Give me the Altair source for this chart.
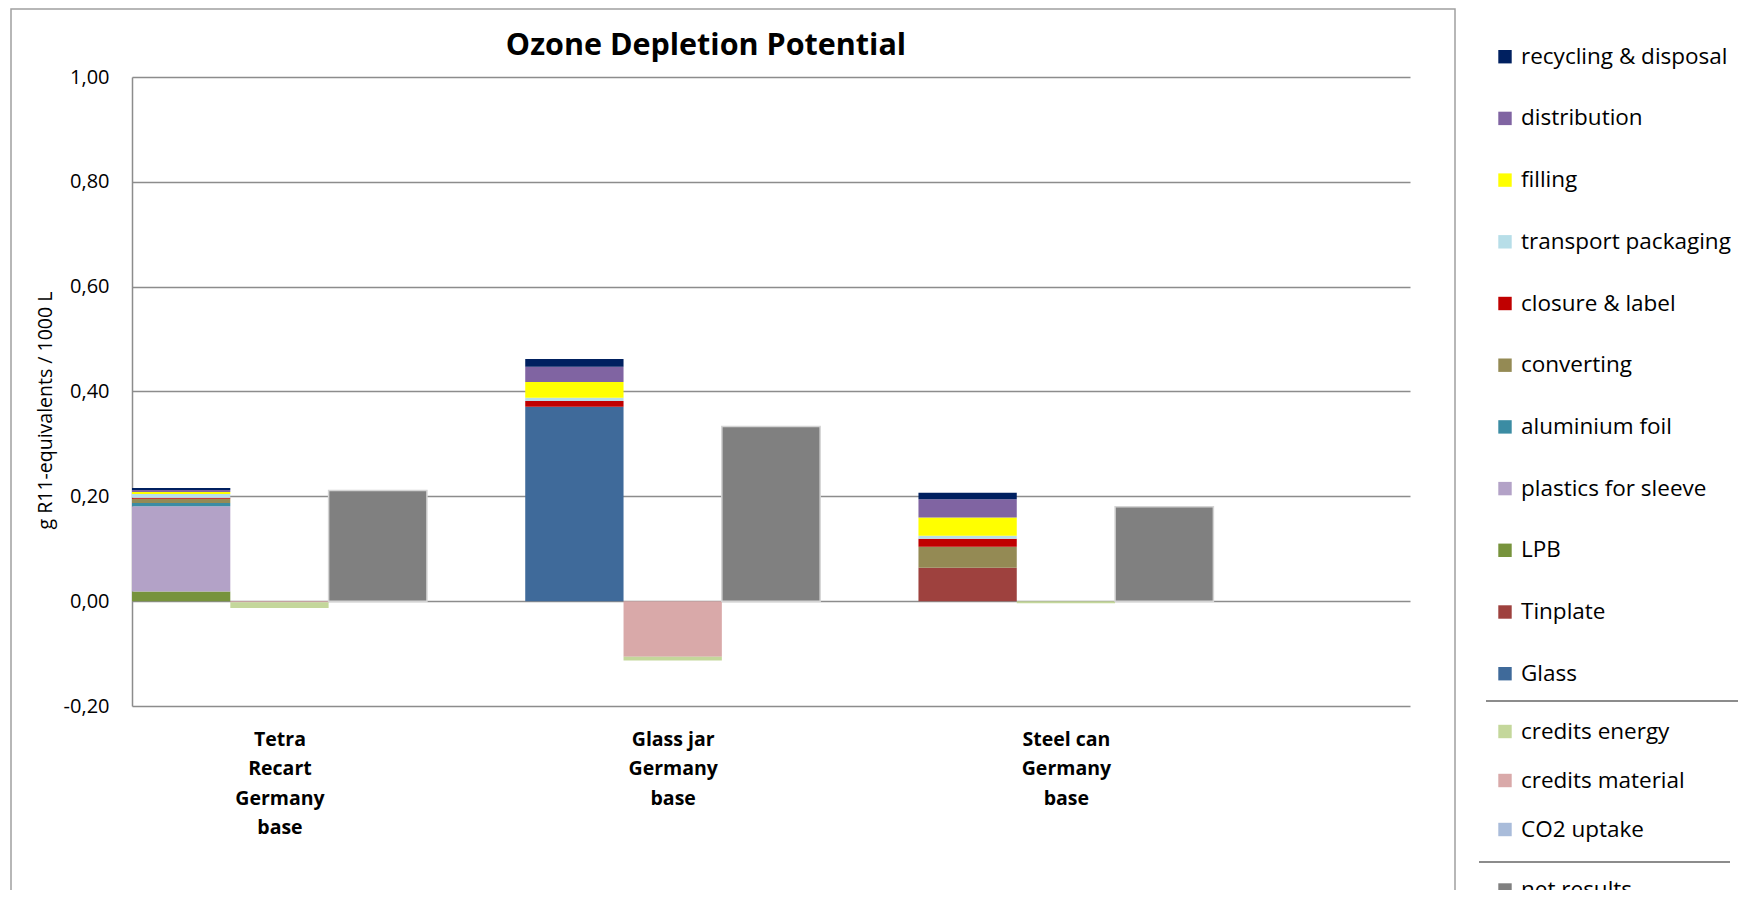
import json
import pandas as pd
import altair as alt

# ---------------- data ----------------
chart_title = "Ozone Depletion Potential"
y_title = "g R11-equivalents / 1000 L"
category_labels = ["Tetra|Recart|Germany|base", "Glass jar|Germany|base", "Steel can|Germany|base"]

# burden series, stacking order bottom -> top
burden_series = ["Glass", "Tinplate", "LPB", "plastics for sleeve", "aluminium foil", "converting",
                 "closure & label", "transport packaging", "filling", "distribution",
                 "recycling & disposal", "CO2 reg (EOL)"]
tetra_burdens = [0, 0, 0.0185, 0.1625, 0.0065, 0.008, 0.002, 0.007, 0.004, 0.0035, 0.004, 0]
glass_burdens = [0.371, 0, 0, 0, 0, 0, 0.0107, 0.0063, 0.030, 0.029, 0.015, 0]
steel_burdens = [0, 0.0636, 0, 0, 0, 0.0404, 0.015, 0.0056, 0.035, 0.035, 0.012, 0]

# credit series, order from zero downwards
credit_series = ["CO2 uptake", "credits material", "credits energy"]
tetra_credits = [0, -0.002, -0.011]
glass_credits = [0, -0.106, -0.007]
steel_credits = [0, 0, -0.004]

net_results = [0.211, 0.333, 0.180]

series_names = ["CO2 reg (EOL)", "recycling & disposal", "distribution", "filling",
                "transport packaging", "closure & label", "converting", "aluminium foil",
                "plastics for sleeve", "LPB", "Tinplate", "Glass",
                "credits energy", "credits material", "CO2 uptake", "net results"]
series_colors = ["#F79646", "#002060", "#8064A2", "#FFFF00",
                 "#B7DEE8", "#C00000", "#948A54", "#3B8CA3",
                 "#B3A2C7", "#77933C", "#9E413E", "#3F6A9A",
                 "#C4D79B", "#D9A9A9", "#A9BCDA", "#808080"]

y_ticks = [-0.2, 0.0, 0.2, 0.4, 0.6, 0.8, 1.0]

# ---------------- table ----------------
rows = []
burdens = [tetra_burdens, glass_burdens, steel_burdens]
credits = [tetra_credits, glass_credits, steel_credits]
for g in range(3):
    base = 4 * g
    for i, s in enumerate(burden_series):
        rows.append({"slot": base, "slot_end": base + 1, "series": s, "value": burdens[g][i], "order": i})
    for i, s in enumerate(credit_series):
        rows.append({"slot": base + 1, "slot_end": base + 2, "series": s, "value": credits[g][i], "order": i})
    rows.append({"slot": base + 2, "slot_end": base + 3, "series": "net results", "value": net_results[g], "order": 0})
df = pd.DataFrame(rows)

# ---------------- layout (pixels) ----------------
W, H = 1278, 629
PAD_L, PAD_T = 124, 69
CANVAS_W, CANVAS_H = 1736, 882
OX, OY = 132, 77          # page position of the plot origin
FONT = "Open Sans"

# legend rows (in plot coordinates)
leg_y = []
for i in range(12):
    leg_y.append(-5.0 + 61.7 * i - OY)
for j in range(3):
    leg_y.append(731.5 + 49 * j - OY)
leg_y.append(890 - OY)
df_leg = pd.DataFrame({"label": series_names, "color": series_colors, "ly": leg_y})

label_js = json.dumps(category_labels)
y_label_expr = "(datum.value < 0 ? '-' : '') + replace(format(abs(datum.value), '.2f'), '.', ',')"

bars = alt.Chart(df).transform_stack(
    stack="value", groupby=["slot"], as_=["y0", "y1"],
    sort=[alt.SortField("order", order="ascending")]
).mark_bar(stroke="#d4d4d4").encode(
    x=alt.X("slot:Q", scale=alt.Scale(domain=[0, 13], nice=False, zero=False),
            axis=alt.Axis(values=[1.5, 5.5, 9.5], labelExpr=f"split({label_js}[floor(datum.value / 4)], '|')",
                          domain=False, ticks=False, grid=False, title=None, labelAngle=0,
                          labelFont=FONT, labelFontWeight="bold", labelFontSize=19.5,
                          labelLineHeight=29.5, labelPadding=24, labelColor="black",
                          labelOverlap=False, labelFlush=False)),
    x2="slot_end:Q",
    y=alt.Y("y0:Q", scale=alt.Scale(domain=[-0.2, 1.0], nice=False, zero=False),
            axis=alt.Axis(values=y_ticks, labelExpr=y_label_expr, title=y_title,
                          grid=True, gridColor="#8c8c8c", gridWidth=1.5,
                          domain=True, domainColor="#8c8c8c", domainWidth=1.5,
                          ticks=False, tickSize=0, labelPadding=23,
                          labelFont=FONT, labelFontSize=20, labelColor="black",
                          titleFont=FONT, titleFontSize=19.5, titleFontWeight="normal", titleColor="black",
                          titleAngle=270, titleX=45 - OX, titleY=410 - OY,
                          titleAlign="center", titleBaseline="middle")),
    y2="y1:Q",
    color=alt.Color("series:N", scale=alt.Scale(domain=series_names, range=series_colors), legend=None),
    strokeWidth=alt.condition("datum.series == 'net results'", alt.value(1.5), alt.value(0)),
)

one = pd.DataFrame({"title": [chart_title]})
frame = alt.Chart(one).mark_rect(fillOpacity=0, stroke="#a0a0a0", strokeWidth=1.5).encode(
    x=alt.value(11 - OX), x2=alt.value(1455 - OX), y=alt.value(9 - OY), y2=alt.value(950 - OY))

title = alt.Chart(one).mark_text(font=FONT, fontSize=30.5, fontWeight="bold", color="black",
                                 align="center", baseline="middle").encode(
    x=alt.value(706 - OX), y=alt.value(46 - OY), text="title:N")

sep1 = alt.Chart(one).mark_rule(color="#8c8c8c", strokeWidth=2).encode(
    x=alt.value(1486 - OX), x2=alt.value(1738 - OX), y=alt.value(701 - OY))
sep2 = alt.Chart(one).mark_rule(color="#8c8c8c", strokeWidth=2).encode(
    x=alt.value(1479 - OX), x2=alt.value(1730 - OX), y=alt.value(862 - OY))

leg_sq = alt.Chart(df_leg).mark_square(size=180, opacity=1).encode(
    x=alt.value(1505 - OX),
    y=alt.Y("ly:Q", scale=None, axis=None),
    fill=alt.Fill("color:N", scale=None, legend=None),
)
leg_tx = alt.Chart(df_leg).mark_text(align="left", baseline="middle", font=FONT, fontSize=22.5, color="black").encode(
    x=alt.value(1521 - OX),
    y=alt.Y("ly:Q", scale=None, axis=None),
    text="label:N",
)

chart = alt.layer(frame, bars, title, sep1, sep2, leg_sq, leg_tx).resolve_scale(
    y="independent", color="independent"
).properties(
    width=W, height=H,
    autosize=alt.AutoSizeParams(type="none"),
    padding={"left": PAD_L, "top": PAD_T, "right": CANVAS_W - PAD_L - W, "bottom": CANVAS_H - PAD_T - H},
    background="white",
).configure_view(stroke=None)

chart.save("out.html", embed_options={"renderer": "svg", "actions": False})
